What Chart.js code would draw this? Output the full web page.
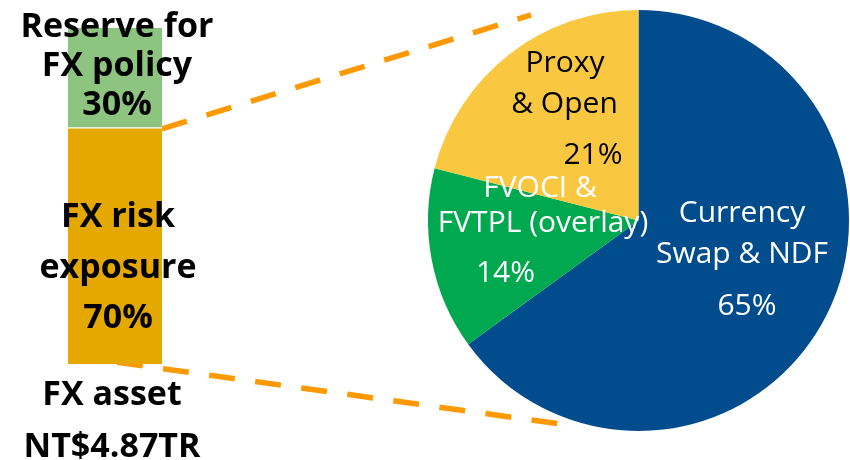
<!DOCTYPE html>
<html>
<head>
<meta charset="utf-8">
<script src="https://cdn.jsdelivr.net/npm/chart.js@4.4.1/dist/chart.umd.min.js"></script>
<style>
  html, body { margin: 0; padding: 0; background: #fff; }
  #wrap { position: relative; width: 850px; height: 460px; }
  #wrap canvas { position: absolute; left: 0; top: 0; }
</style>
</head>
<body>
<div id="wrap">
  <canvas id="assetChart" width="850" height="460"></canvas>
  <canvas id="hedgeChart" width="850" height="460"></canvas>
</div>
<script>
// FX asset split (bottom segment first)
const assetTitle = ['FX asset', 'NT$4.87TR'];
const assetParts = ['FX risk exposure', 'Reserve for FX policy'];
const assetPartLines = [['FX risk', 'exposure'], ['Reserve for', 'FX policy']];
const assetShares = [70, 30];

// How the FX risk exposure is handled
const hedgeParts = ['Currency Swap & NDF', 'FVOCI & FVTPL (overlay)', 'Proxy & Open'];
const hedgeLines = [['Currency', 'Swap & NDF'], ['FVOCI &', 'FVTPL (overlay)'], ['Proxy', '& Open']];
const hedgeShares = [65, 14, 21];

const BOLD = 'bold 34px "Open Sans", Lato, sans-serif';
const REGULAR = '30px "Open Sans", Lato, sans-serif';

// slice label placement: [dx, dy] of each line's baseline centre, relative to the pie centre
const sliceLabelOffsets = [
  [[103.5, 1.5], [103.5, 42.5], [108.5, 94.5]],
  [[-98.5, -23.5], [-95.5, 11.5], [-133, 61.5]],
  [[-73.5, -148.5], [-74, -107.5], [-45.5, -56.5]]
];
const sliceLabelColors = ['#ffffff', '#ffffff', '#000000'];

const sliceLabels = {
  id: 'sliceLabels',
  afterDatasetsDraw(chart) {
    const ctx = chart.ctx;
    const arcs = chart.getDatasetMeta(0).data;
    ctx.save();
    ctx.font = REGULAR;
    ctx.textAlign = 'center';
    ctx.textBaseline = 'alphabetic';
    arcs.forEach((arc, i) => {
      const k = arc.outerRadius / 210.5;
      const lines = hedgeLines[i].concat([hedgeShares[i] + '%']);
      ctx.fillStyle = sliceLabelColors[i];
      lines.forEach((txt, j) => {
        const [dx, dy] = sliceLabelOffsets[i][j];
        ctx.fillText(txt, arc.x + dx * k, arc.y + dy * k);
      });
    });
    ctx.restore();
  }
};

const hedgeChart = new Chart(document.getElementById('hedgeChart'), {
  type: 'pie',
  data: {
    labels: hedgeParts,
    datasets: [{
      data: hedgeShares,
      backgroundColor: ['#004C8D', '#00A94F', '#F9C740'],
      borderWidth: 0
    }]
  },
  options: {
    responsive: false,
    animation: false,
    layout: { padding: { left: 428, right: 1, top: 10, bottom: 29 } },
    plugins: { legend: { display: false }, tooltip: { enabled: false } }
  },
  plugins: [sliceLabels]
});

// Dashed connectors from the exposure segment out to the pie
const connectors = {
  id: 'connectors',
  beforeDatasetsDraw(chart) {
    const ctx = chart.ctx;
    const seg = chart.getDatasetMeta(0).data[0];
    const arc = hedgeChart.getDatasetMeta(0).data[0];
    const r = arc.outerRadius;
    const toPie = (f, deg) => [
      arc.x + f * r * Math.cos(deg * Math.PI / 180),
      arc.y + f * r * Math.sin(deg * Math.PI / 180)
    ];
    const topEnd = toPie(1.102, -117.6);
    const botEnd = toPie(1.035, 110.85);
    ctx.save();
    ctx.strokeStyle = '#FF9900';
    ctx.lineWidth = 5.5;
    ctx.setLineDash([26, 20.5]);
    ctx.beginPath();
    ctx.moveTo(seg.x + seg.width / 2, seg.y);
    ctx.lineTo(topEnd[0], topEnd[1]);
    ctx.stroke();
    ctx.lineDashOffset = -2;
    ctx.beginPath();
    ctx.moveTo(seg.x, seg.base - 2);
    ctx.lineTo(botEnd[0], botEnd[1]);
    ctx.stroke();
    ctx.restore();
  }
};

const assetLabels = {
  id: 'assetLabels',
  afterDatasetsDraw(chart) {
    const ctx = chart.ctx;
    const lower = chart.getDatasetMeta(0).data[0];
    const upper = chart.getDatasetMeta(1).data[0];
    ctx.save();
    ctx.font = BOLD;
    ctx.fillStyle = '#000';
    ctx.textAlign = 'center';
    ctx.textBaseline = 'alphabetic';
    const block = (lines, x, y0, step) => lines.forEach((t, j) => ctx.fillText(t, x, y0 + j * step));
    block(assetPartLines[1].concat([assetShares[1] + '%']), upper.x + 2, upper.y + 9, 39);
    block(assetPartLines[0].concat([assetShares[0] + '%']), lower.x + 3, lower.base - 137, 50.5);
    block(assetTitle, lower.x - 3, lower.base + 41, 52);
    ctx.restore();
  }
};

new Chart(document.getElementById('assetChart'), {
  type: 'bar',
  data: {
    labels: ['FX asset'],
    datasets: [
      { label: assetParts[0], data: [assetShares[0]], backgroundColor: '#E5A800', borderWidth: 0 },
      {
        label: assetParts[1], data: [assetShares[1]], backgroundColor: '#8DC47F',
        borderColor: '#ffffff', borderWidth: { top: 0, left: 0, right: 0, bottom: 2 }, borderSkipped: false
      }
    ]
  },
  options: {
    responsive: false,
    animation: false,
    barPercentage: 1,
    categoryPercentage: 1,
    layout: { padding: { left: 68, right: 688, top: 28, bottom: 96 } },
    scales: {
      x: { stacked: true, display: false },
      y: { stacked: true, display: false, min: 0, max: 100 }
    },
    plugins: { legend: { display: false }, tooltip: { enabled: false } }
  },
  plugins: [connectors, assetLabels]
});
</script>
</body>
</html>
